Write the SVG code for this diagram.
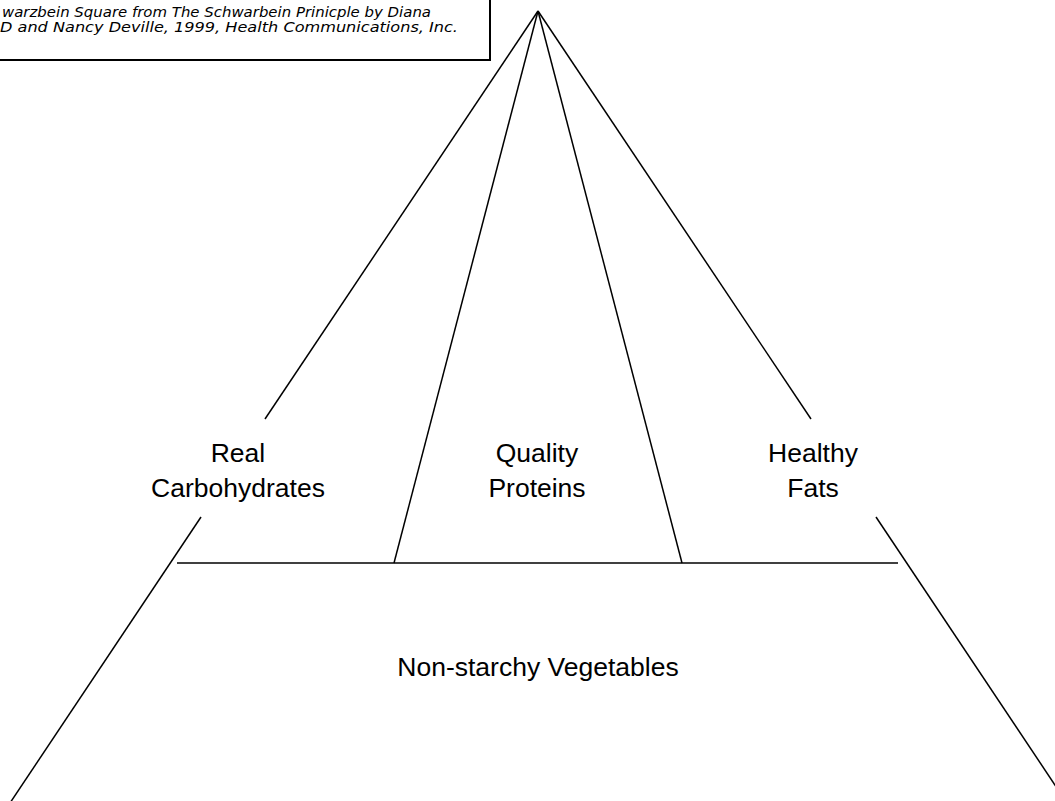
<svg xmlns="http://www.w3.org/2000/svg" width="1055" height="801" viewBox="0 0 1055 801">
<style>
.ln{stroke:#000;stroke-width:1.5;fill:none;stroke-linecap:butt}
.lbl{font-family:"Liberation Sans",Arial,sans-serif;font-size:26.5px;fill:#000;text-anchor:middle}
.cap{font-family:"DejaVu Sans","Liberation Sans",sans-serif;font-size:14px;font-style:italic;fill:#000}
</style>
<rect width="1055" height="801" fill="#fff"/>
<g id="caption">
<rect x="-20" y="-20" width="510" height="80" fill="#fff" stroke="#000" stroke-width="2"/>
<text class="cap" x="2" y="17" textLength="429" lengthAdjust="spacingAndGlyphs">warzbein Square from The Schwarbein Prinicple by Diana</text>
<text class="cap" x="0" y="32" textLength="458" lengthAdjust="spacingAndGlyphs">D and Nancy Deville, 1999, Health Communications, Inc.</text>
</g>
<g id="connectors">
<line class="ln" x1="538" y1="11" x2="265" y2="419"/>
<line class="ln" x1="538" y1="11" x2="394" y2="563"/>
<line class="ln" x1="538" y1="11" x2="682" y2="563"/>
<line class="ln" x1="538" y1="11" x2="811" y2="419"/>
<line class="ln" x1="201" y1="517" x2="10" y2="803"/>
<line class="ln" x1="876" y1="517" x2="1067" y2="803"/>
<line class="ln" x1="177" y1="563" x2="898" y2="563"/>
</g>
<g id="real-carbohydrates">
<text class="lbl" x="238" y="462">Real</text>
<text class="lbl" x="238" y="497">Carbohydrates</text>
</g>
<g id="quality-proteins">
<text class="lbl" x="537" y="462">Quality</text>
<text class="lbl" x="537" y="497">Proteins</text>
</g>
<g id="healthy-fats">
<text class="lbl" x="813" y="462">Healthy</text>
<text class="lbl" x="813" y="497">Fats</text>
</g>
<g id="vegetables">
<text class="lbl" x="538" y="676">Non-starchy Vegetables</text>
</g>
</svg>
